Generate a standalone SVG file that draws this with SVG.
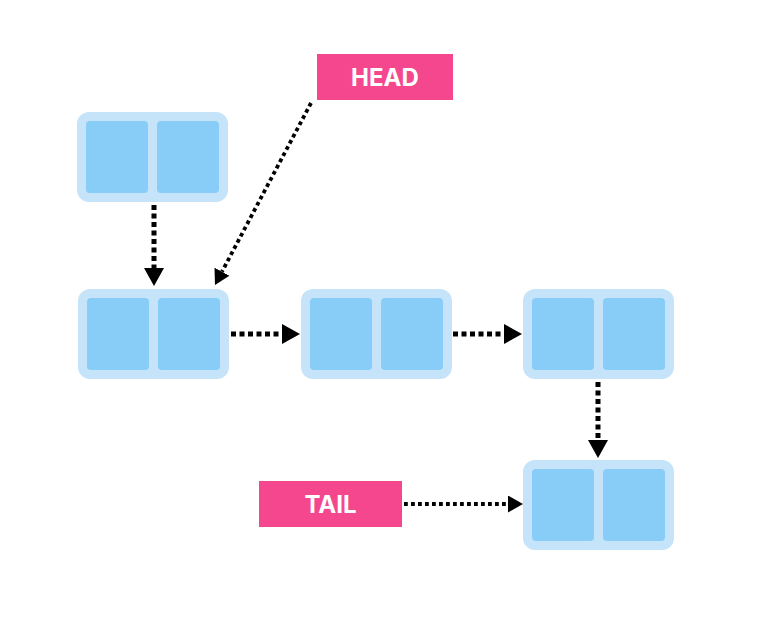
<svg xmlns="http://www.w3.org/2000/svg" width="767" height="626" viewBox="0 0 767 626">
<style>
.outer{fill:#c5e4fa}
.cell{fill:#88cdf7}
.lbl{fill:#f4478d}
.lt{fill:#ffffff;font-family:"Inter","Open Sans","Liberation Sans",sans-serif;font-weight:700;font-size:24px;text-anchor:middle}
.thick{stroke:#000;stroke-width:5;stroke-dasharray:5 3.5;fill:none}
.thin{stroke:#000;stroke-width:3.8;stroke-dasharray:3.8 3.2;fill:none}
</style>
<defs>
<marker id="ab" markerUnits="userSpaceOnUse" markerWidth="18" markerHeight="20" refX="0" refY="10" orient="auto" viewBox="0 0 18 20"><path d="M0,0 L18,10 L0,20 z" fill="#000"/></marker>
<marker id="as" markerUnits="userSpaceOnUse" markerWidth="15" markerHeight="17" refX="0" refY="8.5" orient="auto" viewBox="0 0 15 17"><path d="M0,0 L15,8.5 L0,17 z" fill="#000"/></marker>
<g id="node">
<rect class="outer" x="0" y="0" width="151" height="90" rx="12"/>
<rect class="cell" x="9" y="9" width="62" height="72" rx="4"/>
<rect class="cell" x="80" y="9" width="62" height="72" rx="4"/>
</g>
</defs>
<g id="connectors">
<line class="thick" x1="154" y1="205" x2="154" y2="268" marker-end="url(#ab)"/>
<line class="thick" x1="231" y1="334" x2="282" y2="334" marker-end="url(#ab)"/>
<line class="thick" x1="453" y1="334" x2="504" y2="334" marker-end="url(#ab)"/>
<line class="thick" x1="598" y1="382" x2="598" y2="440" marker-end="url(#ab)"/>
<line class="thin" x1="404" y1="504" x2="508" y2="504" marker-end="url(#as)"/>
<line class="thin" x1="311" y1="103" x2="222" y2="271.7" marker-end="url(#as)"/>
</g>
<g id="n1"><use href="#node" x="77" y="112"/></g>
<g id="n2"><use href="#node" x="78" y="289"/></g>
<g id="n3"><use href="#node" x="301" y="289"/></g>
<g id="n4"><use href="#node" x="523" y="289"/></g>
<g id="n5"><use href="#node" x="523" y="460"/></g>
<g id="head">
<rect class="lbl" x="317" y="54" width="136" height="46"/>
<text class="lt" x="385" y="85.5">HEAD</text>
</g>
<g id="tail">
<rect class="lbl" x="259" y="481" width="143" height="46"/>
<text class="lt" x="330.5" y="513">TAIL</text>
</g>
</svg>
